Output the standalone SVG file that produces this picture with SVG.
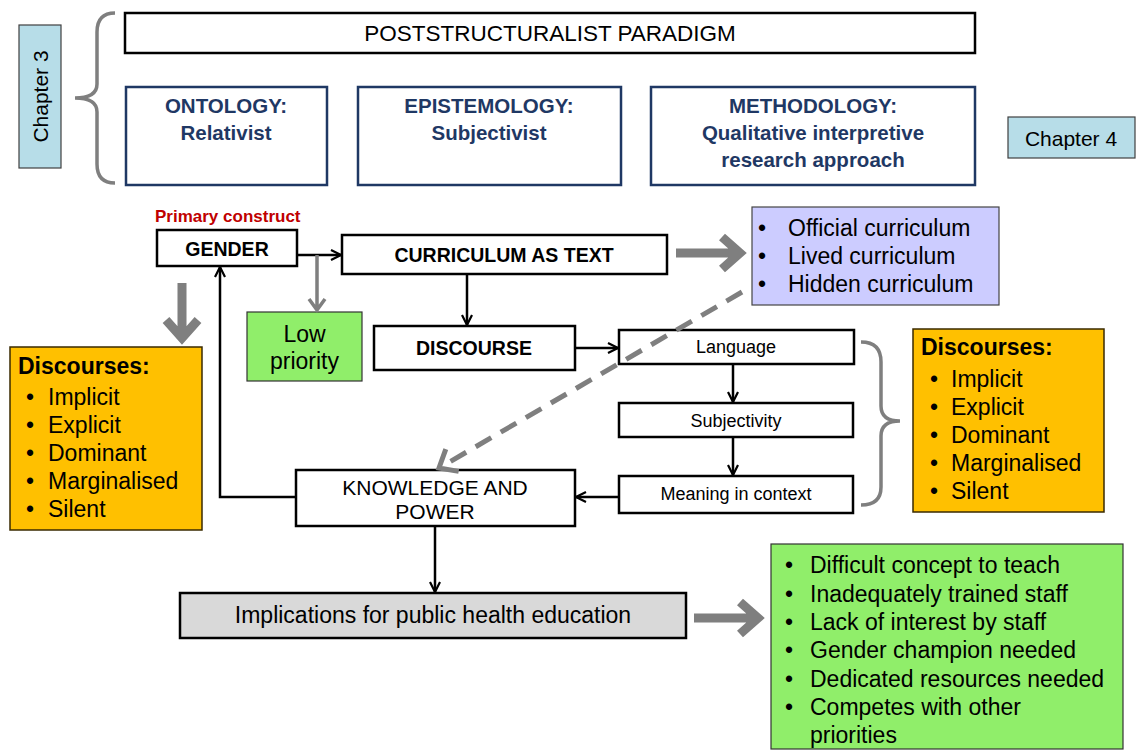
<svg xmlns="http://www.w3.org/2000/svg" width="1136" height="751" viewBox="0 0 1136 751">
<style>
.bk{fill:#fff;stroke:#000;stroke-width:2.5}
.nv{fill:#fff;stroke:#1f3864;stroke-width:2.5}
.ch{fill:#b7dde8;stroke:#404040;stroke-width:1.2}
.or{fill:#ffc000;stroke:#3a2a00;stroke-width:1.5}
.gr{fill:#90ee6a;stroke:#333;stroke-width:1.2}
.pu{fill:#ccccff;stroke:#444;stroke-width:1.2}
.gy{fill:#d9d9d9;stroke:#000;stroke-width:2.5}
.nt{font-family:"Liberation Sans",Arial,sans-serif;font-weight:bold;font-size:20.5px;fill:#1f3864;text-anchor:middle}
.bt{font-family:"Liberation Sans",Arial,sans-serif;font-weight:bold;font-size:19.5px;fill:#000;text-anchor:middle}
.rt{font-family:"Liberation Sans",Arial,sans-serif;font-size:18px;fill:#000;text-anchor:middle}
.lt{font-family:"Liberation Sans",Arial,sans-serif;font-size:23px;fill:#000}
.hd{font-family:"Liberation Sans",Arial,sans-serif;font-weight:bold;font-size:23px;fill:#000}
.cx{font-family:"Liberation Sans",Arial,sans-serif;font-size:21px;fill:#000;text-anchor:middle}
.ln{fill:none;stroke:#000;stroke-width:2.5}
.ga{fill:none;stroke:#7f7f7f;stroke-width:9}
.br{fill:none;stroke:#7f7f7f;stroke-width:3.5}
</style>
<defs>
<marker id="ah" viewBox="0 0 12 12" refX="11" refY="6" markerWidth="12" markerHeight="12" markerUnits="userSpaceOnUse" orient="auto">
<path d="M1,1 L11,6 L1,11" fill="none" stroke="#000" stroke-width="2.2"/>
</marker>
</defs>
<rect width="1136" height="751" fill="#fff"/>

<g id="chapter3">
<rect class="ch" x="19" y="25" width="42" height="143"/>
<text class="cx" font-size="22.5" transform="translate(48,96.5) rotate(-90)">Chapter 3</text>
</g>
<g id="brace-left">
<path class="br" d="M115,13 Q97,13 97,32 L97,84 Q97,98 75,98 Q97,98 97,112 L97,164 Q97,183 115,183"/>
</g>
<g id="paradigm">
<rect class="bk" x="125" y="13" width="850" height="40"/>
<text x="550" y="41" font-family="Liberation Sans,Arial,sans-serif" font-size="22.5" text-anchor="middle">POSTSTRUCTURALIST PARADIGM</text>
</g>
<g id="ontology">
<rect class="nv" x="126" y="87" width="201" height="98"/>
<text class="nt" x="226" y="113">ONTOLOGY:</text>
<text class="nt" x="226" y="140">Relativist</text>
</g>
<g id="epistemology">
<rect class="nv" x="358" y="87" width="263" height="98"/>
<text class="nt" x="489" y="113">EPISTEMOLOGY:</text>
<text class="nt" x="489" y="140">Subjectivist</text>
</g>
<g id="methodology">
<rect class="nv" x="651" y="87" width="324" height="98"/>
<text class="nt" x="813" y="113">METHODOLOGY:</text>
<text class="nt" x="813" y="140" font-size="21.5">Qualitative interpretive</text>
<text class="nt" x="813" y="167">research approach</text>
</g>
<g id="chapter4">
<rect class="ch" x="1008" y="117" width="127" height="41"/>
<text class="cx" x="1071" y="146" font-size="23.5">Chapter 4</text>
</g>

<g id="primary-construct">
<text x="155" y="222" font-family="Liberation Sans,Arial,sans-serif" font-weight="bold" font-size="17" fill="#c00000">Primary construct</text>
</g>
<g id="gender">
<rect class="bk" x="157" y="230" width="140" height="36"/>
<text class="bt" x="227" y="256">GENDER</text>
</g>
<g id="curriculum">
<rect class="bk" x="342" y="235" width="325" height="39"/>
<text class="bt" x="504" y="262">CURRICULUM AS TEXT</text>
</g>
<g id="low-priority">
<rect class="gr" x="247" y="312" width="115" height="69"/>
<text class="lt" x="304.5" y="342" text-anchor="middle">Low</text>
<text class="lt" x="304.5" y="369" text-anchor="middle">priority</text>
</g>
<g id="discourse">
<rect class="bk" x="374" y="326" width="201" height="44"/>
<text class="bt" x="474" y="355">DISCOURSE</text>
</g>
<g id="curricula">
<rect class="pu" x="752" y="207" width="247" height="98"/>
<text class="lt"><tspan x="758" y="236">•</tspan><tspan x="788" y="236">Official curriculum</tspan><tspan x="758" y="264">•</tspan><tspan x="788" y="264">Lived curriculum</tspan><tspan x="758" y="292">•</tspan><tspan x="788" y="292">Hidden curriculum</tspan></text>
</g>
<g id="discourses-left">
<rect class="or" x="10" y="347" width="192" height="183"/>
<text class="hd" x="18" y="374">Discourses:</text>
<text class="lt"><tspan x="26" y="405">•</tspan><tspan x="48" y="405">Implicit</tspan><tspan x="26" y="433">•</tspan><tspan x="48" y="433">Explicit</tspan><tspan x="26" y="461">•</tspan><tspan x="48" y="461">Dominant</tspan><tspan x="26" y="489">•</tspan><tspan x="48" y="489">Marginalised</tspan><tspan x="26" y="517">•</tspan><tspan x="48" y="517">Silent</tspan></text>
</g>
<g id="language">
<rect class="bk" x="619" y="330" width="235" height="34"/>
<text class="rt" x="736" y="353">Language</text>
</g>
<g id="subjectivity">
<rect class="bk" x="619" y="403" width="234" height="34"/>
<text class="rt" x="736" y="427">Subjectivity</text>
</g>
<g id="meaning">
<rect class="bk" x="619" y="476" width="234" height="37"/>
<text class="rt" x="736" y="500">Meaning in context</text>
</g>
<g id="brace-right">
<path class="br" d="M861,342 Q881,342 881,362 L881,406 Q881,421 900,421 Q881,421 881,436 L881,487 Q881,505 861,505"/>
</g>
<g id="discourses-right">
<rect class="or" x="913" y="329" width="191" height="183"/>
<text class="hd" x="921" y="355">Discourses:</text>
<text class="lt"><tspan x="930" y="387">•</tspan><tspan x="951" y="387">Implicit</tspan><tspan x="930" y="415">•</tspan><tspan x="951" y="415">Explicit</tspan><tspan x="930" y="443">•</tspan><tspan x="951" y="443">Dominant</tspan><tspan x="930" y="471">•</tspan><tspan x="951" y="471">Marginalised</tspan><tspan x="930" y="499">•</tspan><tspan x="951" y="499">Silent</tspan></text>
</g>
<g id="knowledge-power">
<rect class="bk" x="296" y="470" width="279" height="56"/>
<text x="435" y="495" font-family="Liberation Sans,Arial,sans-serif" font-size="21" text-anchor="middle">KNOWLEDGE AND</text>
<text x="435" y="519" font-family="Liberation Sans,Arial,sans-serif" font-size="21" text-anchor="middle">POWER</text>
</g>
<g id="implications">
<rect class="gy" x="180" y="593" width="506" height="45"/>
<text class="lt" x="433" y="623" font-size="24" text-anchor="middle">Implications for public health education</text>
</g>
<g id="barriers">
<rect class="gr" x="771" y="544" width="352" height="205"/>
<text class="lt"><tspan x="785" y="573">•</tspan><tspan x="810" y="573">Difficult concept to teach</tspan><tspan x="785" y="602">•</tspan><tspan x="810" y="602">Inadequately trained staff</tspan><tspan x="785" y="630">•</tspan><tspan x="810" y="630">Lack of interest by staff</tspan><tspan x="785" y="658">•</tspan><tspan x="810" y="658">Gender champion needed</tspan><tspan x="785" y="687">•</tspan><tspan x="810" y="687">Dedicated resources needed</tspan><tspan x="785" y="715">•</tspan><tspan x="810" y="715">Competes with other</tspan><tspan x="810" y="743">priorities</tspan></text>
</g>

<g id="connectors">
<line class="ln" x1="297" y1="255" x2="341" y2="255" marker-end="url(#ah)"/>
<path d="M317,255 L317,309 M309,299 L317,310 L325,299" fill="none" stroke="#7f7f7f" stroke-width="3.5"/>
<line class="ln" x1="467" y1="274" x2="467" y2="325" marker-end="url(#ah)"/>
<line class="ln" x1="575" y1="348" x2="618" y2="348" marker-end="url(#ah)"/>
<line class="ln" x1="733" y1="364" x2="733" y2="402" marker-end="url(#ah)"/>
<line class="ln" x1="733" y1="437" x2="733" y2="475" marker-end="url(#ah)"/>
<line class="ln" x1="619" y1="497" x2="576" y2="497" marker-end="url(#ah)"/>
<polyline class="ln" points="296,497 220,497 220,267" marker-end="url(#ah)"/>
<line class="ln" x1="435" y1="526" x2="435" y2="592" marker-end="url(#ah)"/>
<path class="ga" d="M182,283 L182,334 M166,320 L182,338 L198,320"/>
<path class="ga" d="M676,253 L736,253 M722,237 L740,253 L722,269"/>
<path class="ga" d="M694,618 L754,618 M740,602 L758,618 L740,634"/>
<line x1="742" y1="292" x2="446" y2="464" stroke="#7f7f7f" stroke-width="5" stroke-dasharray="18,11"/>
<path d="M458.7,471.4 L439,468 L445.8,449.2" fill="none" stroke="#7f7f7f" stroke-width="5"/>
</g>
</svg>
